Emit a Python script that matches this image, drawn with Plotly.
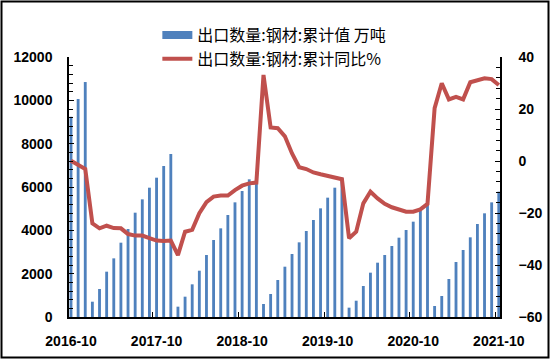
import pandas as pd
import plotly.graph_objects as go

months = [p.strftime("%Y-%m") for p in pd.period_range("2016-10", "2021-10", freq="M")]

export_cum = [9243, 10060, 10845, 706, 1292, 2092, 2707, 3430, 4061, 4815, 5430, 5968, 6430, 6969, 7523,
              477, 938, 1508, 2137, 2861, 3553, 4092, 4708, 5292, 5815, 6354, 6300,
              600, 1061, 1707, 2322, 2907, 3446, 3969, 4477, 5015, 5508, 5968, 6429,
              431, 752, 1431, 2046, 2507, 2861, 3276, 3661, 4015, 4400, 4892, 5367,
              508, 969, 1754, 2538, 3092, 3677, 4292, 4785, 5292, 5785]

export_yoy = [0.1, -1.3, -3.1, -24.0, -25.9, -24.9, -25.8, -25.9, -28.1, -28.7, -28.7, -29.7, -30.6, -30.8, -30.6,
              -36.2, -27.2, -26.5, -20.1, -15.8, -13.7, -13.3, -13.3, -11.2, -9.5, -8.6, -8.3,
              33.1, 12.9, 12.6, 9.5, 2.9, -2.4, -3.1, -4.4, -5.1, -5.8, -6.2, -7.0,
              -29.7, -27.2, -16.3, -11.8, -14.4, -16.5, -17.8, -18.6, -19.5, -19.5, -18.6, -16.5,
              20.3, 29.9, 23.7, 24.7, 23.7, 30.3, 30.9, 31.8, 31.5, 29.2]

name_bar = "出口数量:钢材:累计值 万吨"
name_line = "出口数量:钢材:累计同比%"
x_labels = ["2016-10", "2017-10", "2018-10", "2019-10", "2020-10", "2021-10"]

BLUE = "#4F81BD"
RED = "#C0504D"

fig = go.Figure()
fig.add_trace(go.Bar(x=months, y=export_cum, name=name_bar, marker_color=BLUE,
                     marker_line_width=0, showlegend=False, yaxis="y"))
# legend proxy for the bar series (wide flat swatch like the original)
fig.add_trace(go.Scatter(x=[None], y=[None], mode="lines", name=name_bar,
                         line=dict(color=BLUE, width=8), yaxis="y"))
fig.add_trace(go.Scatter(x=months, y=export_yoy, mode="lines", name=name_line,
                         line=dict(color=RED, width=4), yaxis="y2"))

tickfont = dict(family="Liberation Sans, Arial, sans-serif", size=14, color="black", weight="bold")

fig.update_layout(
    width=550, height=359,
    margin=dict(l=69, r=50, t=57, b=42, autoexpand=False),
    paper_bgcolor="white", plot_bgcolor="white",
    bargap=0.6,
    showlegend=True,
    legend=dict(x=0.205, xanchor="left", y=1.15, yanchor="top",
                font=dict(family="Noto Sans CJK SC", size=16, color="black"),
                bgcolor="rgba(0,0,0,0)", tracegroupgap=0),
    xaxis=dict(type="category", categoryorder="array", categoryarray=months,
               range=[-0.28, 60.17], tickmode="array", tickvals=x_labels, ticktext=x_labels,
               tickangle=0, automargin=False,
               tickson="boundaries", ticks="inside", ticklen=5, tickcolor="black",
               showline=True, linecolor="black", linewidth=1.5, showgrid=False,
               tickfont=tickfont, ticklabelstandoff=10),
    yaxis=dict(range=[0, 12000], tickmode="linear", tick0=0, dtick=2000, tickformat="d",
               automargin=False,
               ticks="inside", ticklen=5, tickcolor="black",
               minor=dict(ticks="inside", dtick=400, ticklen=4, tickcolor="black"),
               showline=True, linecolor="black", linewidth=1.5, showgrid=False,
               zeroline=False, tickfont=tickfont, ticklabelstandoff=12),
    yaxis2=dict(range=[-60, 40], overlaying="y", side="right", tickmode="linear", tick0=-60, dtick=20,
                automargin=False,
                ticks="inside", ticklen=5, tickcolor="black",
                minor=dict(ticks="inside", dtick=4, ticklen=4, tickcolor="black"),
                showline=True, linecolor="black", linewidth=1.5, showgrid=False,
                zeroline=False, tickfont=tickfont, ticklabelstandoff=14),
)

# outer frame around whole image
pw, ph = 550 - 69 - 50, 359 - 57 - 42
fig.add_shape(type="rect", xref="paper", yref="paper",
              x0=(1.5 - 69) / pw, x1=(548.5 - 69) / pw,
              y0=(317 - 357.5) / ph, y1=(317 - 1.5) / ph,
              line=dict(color="black", width=2), fillcolor="rgba(0,0,0,0)", layer="below")

fig.write_html("out.html", config={"displayModeBar": False},
               post_script="document.body.style.margin='0';document.body.style.overflow='hidden';")
